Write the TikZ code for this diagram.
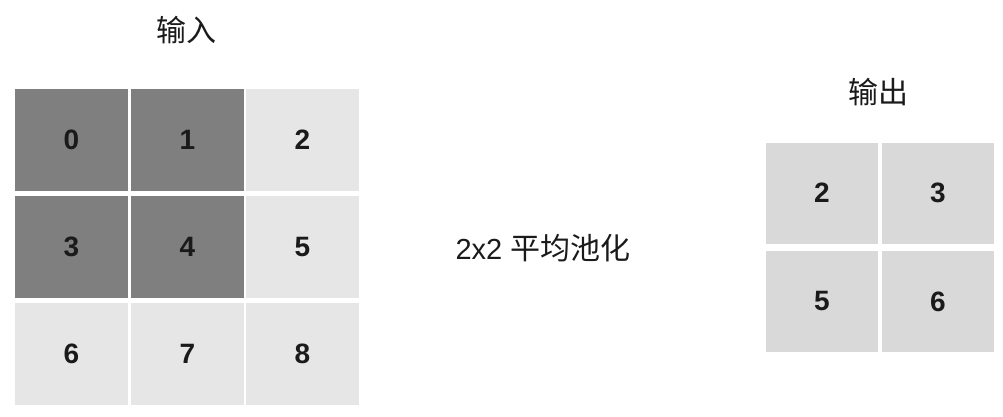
\documentclass[tikz,border=0pt]{standalone}
\usepackage{fontspec}
\setmainfont{Liberation Sans}
\newfontfamily\cjk{Noto Sans CJK SC}
\definecolor{darkcell}{HTML}{7F7F7F}
\definecolor{lightcell}{HTML}{E6E6E6}
\definecolor{outcell}{HTML}{D9D9D9}
\definecolor{txt}{HTML}{1A1A1A}
\begin{document}
\begin{tikzpicture}[x=1pt,y=-1pt,
  cell/.style={rectangle,inner sep=0pt,minimum width=113pt,minimum height=102pt,text=txt,font=\fontsize{28}{32}\selectfont\bfseries},
  dk/.style={cell,fill=darkcell},
  lt/.style={cell,fill=lightcell},
  oc/.style={cell,fill=outcell,minimum width=112pt,minimum height=101pt},
  lbl/.style={text=txt,font=\cjk\fontsize{30}{36}\selectfont}]
\useasboundingbox (0,0) rectangle (1003,417);
% input grid
\node[dk] (c0) at (71.5,140) {0};
\node[dk] (c1) at (187.5,140) {1};
\node[lt] (c2) at (302.5,140) {2};
\node[dk] (c3) at (71.5,247) {3};
\node[dk] (c4) at (187.5,247) {4};
\node[lt] (c5) at (302.5,247) {5};
\node[lt] (c6) at (71.5,354) {6};
\node[lt] (c7) at (187.5,354) {7};
\node[lt] (c8) at (302.5,354) {8};
% output grid
\node[oc] (o0) at (822,193) {2};
\node[oc] (o1) at (938,193) {3};
\node[oc] (o2) at (822,301.5) {5};
\node[oc] (o3) at (938,301.5) {6};
% labels
\node[lbl] (in) at (186,30) {输入};
\node[lbl] (out) at (878,92) {输出};
\node[lbl] (pool) at (543,248) {\fontspec{Liberation Sans}\fontsize{29}{36}\selectfont 2x2 \cjk\fontsize{30}{36}\selectfont 平均池化};
\end{tikzpicture}
\end{document}
